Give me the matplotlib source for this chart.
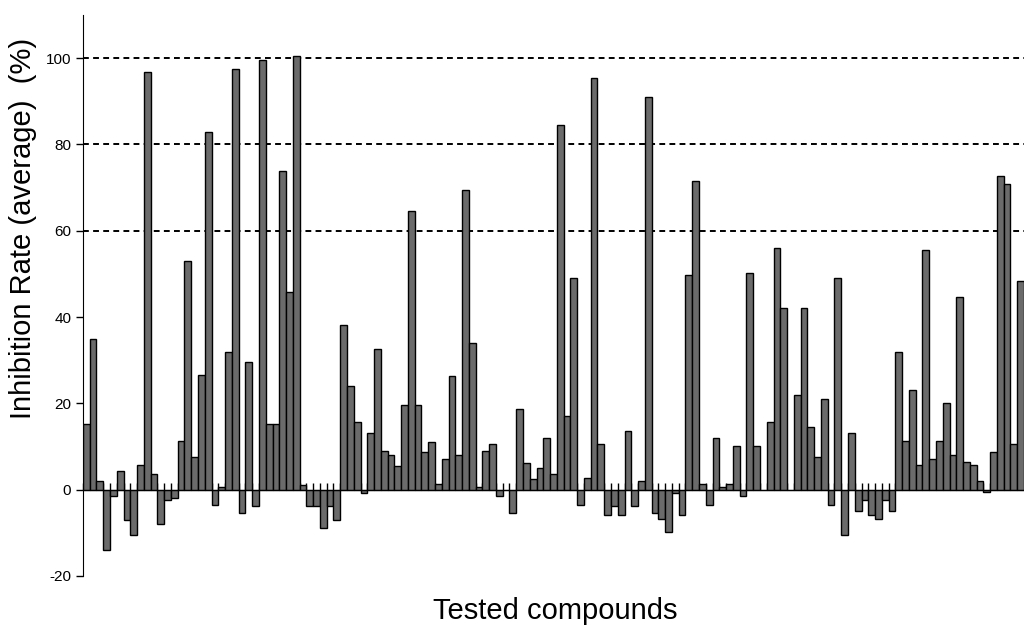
import matplotlib
matplotlib.use("Agg")
import matplotlib.pyplot as plt
import numpy as np

plt.rcParams['font.family'] = ['Liberation Sans', 'DejaVu Sans']
plt.rcParams['axes.unicode_minus'] = False

values = [
    15.1, 35.0, 1.9, -13.9, -1.5, 4.4, -7.0, -10.6, 5.6, 96.9,
    3.6, -8.0, -2.5, -1.9, 11.2, 53.1, 7.6, 26.5, 82.9, -3.6,
    0.6, 32.0, 97.4, -5.5, 29.5, -3.9, 99.6, 15.1, 15.1, 73.9,
    45.9, 100.4, 1.0, -3.9, -3.9, -8.9, -3.9, -7.0, 38.1, 24.0,
    15.6, -0.8, 13.1, 32.5, 8.9, 8.0, 5.5, 19.5, 64.6, 19.5,
    8.7, 11.1, 1.4, 7.0, 26.4, 8.1, 69.5, 33.9, 0.6, 8.9,
    10.6, -1.5, 0.0, -5.5, 18.6, 6.1, 2.5, 5.1, 12.0, 3.6,
    84.6, 17.1, 49.0, -3.6, 2.6, 95.4, 10.6, -5.8, -3.7, -5.8,
    13.6, -3.7, 2.0, 91.0, -5.5, -6.9, -9.9, -0.8, -5.8, 49.7,
    71.5, 1.4, -3.6, 12.0, 0.6, 1.4, 10.1, -1.4, 50.1, 10.1,
    0.0, 15.6, 56.0, 42.1, 0.0, 21.9, 42.1, 14.5, 7.6, 20.9,
    -3.6, 49.0, -10.6, 13.1, -5.0, -2.5, -5.8, -6.9, -2.5, -5.0,
    32.0, 11.2, 23.2, 5.6, 55.5, 7.0, 11.2, 20.1, 8.1, 44.7,
    6.5, 5.6, 2.0, -0.6, 8.7, 72.8, 70.9, 10.6, 48.4,
]
y_ticks = [-20, 0, 20, 40, 60, 80, 100]
ref_lines = [60, 80, 100]

fig = plt.figure(figsize=(10.24, 6.26), dpi=100)
ax = fig.add_axes([0.081, 0.080, 0.919, 0.896])

x = np.arange(len(values))
ax.bar(x, values, width=1.0, color='#6b6b6b', edgecolor='black', linewidth=1.0, zorder=2)

for r in ref_lines:
    ax.axhline(r, color='black', linestyle=(0, (3, 2.2)), linewidth=1.4, zorder=1)

ax.set_xlim(-0.5, 138.3)
ax.set_ylim(-20, 110)

ax.spines['top'].set_visible(False)
ax.spines['right'].set_visible(False)
ax.spines['bottom'].set_position(('data', 0))
ax.spines['bottom'].set_zorder(3)
ax.spines['left'].set_bounds(-20, 110)

ax.set_xticks(np.arange(len(values) + 1) - 0.5)
ax.tick_params(axis='x', direction='in', length=5, width=1, labelbottom=False)
ax.set_yticks(y_ticks)
ax.tick_params(axis='y', direction='out', length=5, width=1, labelsize=11)

fig.text(23 / 1024, 1 - 228 / 626, 'Inhibition Rate (average)  (%)', rotation=90,
         ha='center', va='center', fontsize=21)
fig.text(555 / 1024, 1 - 611 / 626, 'Tested compounds', ha='center', va='center', fontsize=21)

fig.savefig('out.png', dpi=100)
